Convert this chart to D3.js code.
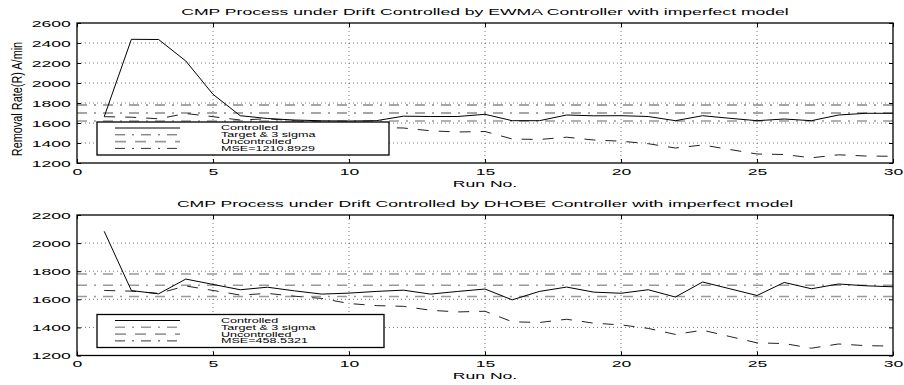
<!DOCTYPE html>
<html>
<head>
<meta charset="utf-8">
<script src="https://cdn.jsdelivr.net/npm/d3@7"></script>
<style>
  body { margin: 0; background: #fff; }
  text { font-family: "Liberation Sans", Arial, Helvetica, sans-serif; fill: #000; }
</style>
</head>
<body>
<svg id="chart" width="904" height="385"></svg>
<script>
// ---- data ----
const runs = [1, 2, 3, 4, 5, 6, 7, 8, 9, 10, 11, 12, 13, 14, 15,
              16, 17, 18, 19, 20, 21, 22, 23, 24, 25, 26, 27, 28, 29, 30];

// drifting process with no control action (same in both panels)
const uncontrolled = [1663, 1658, 1642, 1695, 1663, 1630, 1642, 1622, 1606, 1570,
                      1555, 1550, 1522, 1510, 1515, 1440, 1435, 1458, 1430, 1418,
                      1393, 1350, 1380, 1335, 1290, 1285, 1252, 1282, 1270, 1267];

const ewmaControlled = [1663, 2437, 2435, 2220, 1887, 1673, 1645, 1630, 1622, 1620,
                        1623, 1668, 1665, 1665, 1687, 1623, 1623, 1680, 1672, 1673,
                        1665, 1623, 1673, 1647, 1623, 1640, 1623, 1680, 1697, 1697];

const dhobeControlled = [2084, 1662, 1639, 1744, 1706, 1668, 1686, 1660, 1637, 1644,
                         1656, 1665, 1637, 1656, 1673, 1596, 1656, 1687, 1651, 1643,
                         1668, 1616, 1723, 1675, 1627, 1720, 1675, 1709, 1696, 1689];

// target and 3-sigma limits
const referenceLevels = [1780, 1700, 1620];

const xTicks = [0, 5, 10, 15, 20, 25, 30];
const ewmaYTicks = [1200, 1400, 1600, 1800, 2000, 2200, 2400, 2600];
const dhobeYTicks = [1200, 1400, 1600, 1800, 2000, 2200];

const legendLabels = ["Controlled", "Target & 3 sigma", "Uncontrolled"];
const ewmaMse = "MSE=1210.8929";
const dhobeMse = "MSE=458.5321";

const ewmaTitle = "CMP Process under Drift Controlled by EWMA Controller with imperfect model";
const dhobeTitle = "CMP Process under Drift Controlled by DHOBE Controller with imperfect model";
const xLabel = "Run No.";
const yLabel = "Removal Rate(R) A/min";

// ---- layout / style ----
const SX = 1.85;          // horizontal glyph stretch used by all labels
const FS = 9.5;           // label font size
const DASH_DOT = "10,7,2,7";

const svg = d3.select("#chart");

const panels = [
  {
    title: ewmaTitle, controlled: ewmaControlled, mse: ewmaMse,
    yTicks: ewmaYTicks, top: 23, bottom: 163, showYLabel: true,
    refStyles: [
      { color: "#4d4d4d", width: 1 },
      { color: "#4d4d4d", width: 1 },
      { color: "#999", width: 1.5 }
    ],
    legend: { x: 97, y: 122, w: 292, h: 33 },
    samples: [
      { color: "#000", width: 1, dash: null },
      { color: "#555", width: 1, dash: DASH_DOT },
      { color: "#999", width: 1.6, dash: "11,9" },
      { color: "#333", width: 1, dash: DASH_DOT }
    ]
  },
  {
    title: dhobeTitle, controlled: dhobeControlled, mse: dhobeMse,
    yTicks: dhobeYTicks, top: 215, bottom: 355.5, showYLabel: false,
    refStyles: [
      { color: "#9a9a9a", width: 1.6 },
      { color: "#9a9a9a", width: 1.6 },
      { color: "#9a9a9a", width: 1.6 }
    ],
    legend: { x: 97, y: 314.5, w: 287, h: 33 },
    samples: [
      { color: "#000", width: 1, dash: null },
      { color: "#9a9a9a", width: 1.6, dash: DASH_DOT },
      { color: "#9a9a9a", width: 1.6, dash: "11,9" },
      { color: "#333", width: 1, dash: DASH_DOT }
    ]
  }
];

const left = 77, right = 893;

function stretchedText(g, x, y, str, anchor, size, sx) {
  return g.append("text")
    .attr("transform", `translate(${x},${y}) scale(${sx},1)`)
    .attr("text-anchor", anchor)
    .attr("font-size", size)
    .text(str);
}

panels.forEach(p => {
  const g = svg.append("g");
  const x = d3.scaleLinear().domain([0, 30]).range([left, right]);
  const y = d3.scaleLinear()
    .domain([p.yTicks[0], p.yTicks[p.yTicks.length - 1]])
    .range([p.bottom, p.top]);

  // dotted grid
  const grid = g.append("g").attr("stroke", "#555").attr("stroke-width", 0.8)
    .attr("stroke-dasharray", "1,3");
  grid.selectAll(".gx").data(xTicks.slice(1, -1)).join("line")
    .attr("x1", d => x(d)).attr("x2", d => x(d))
    .attr("y1", p.top).attr("y2", p.bottom);
  grid.selectAll(".gy").data(p.yTicks.slice(1, -1)).join("line")
    .attr("x1", left).attr("x2", right)
    .attr("y1", d => y(d)).attr("y2", d => y(d));

  // target and limit lines
  g.selectAll(".ref").data(referenceLevels).join("line")
    .attr("x1", left).attr("x2", right)
    .attr("y1", d => y(d)).attr("y2", d => y(d))
    .attr("stroke", (d, i) => p.refStyles[i].color)
    .attr("stroke-width", (d, i) => p.refStyles[i].width)
    .attr("stroke-dasharray", DASH_DOT);

  const line = d3.line().x((d, i) => x(runs[i])).y(d => y(d));

  g.append("path").datum(uncontrolled)
    .attr("d", line).attr("fill", "none")
    .attr("stroke", "#222").attr("stroke-width", 1)
    .attr("stroke-dasharray", "11,10");

  g.append("path").datum(p.controlled)
    .attr("d", line).attr("fill", "none")
    .attr("stroke", "#000").attr("stroke-width", 1);

  // axes with inward ticks on all four sides
  const yAxis = g.append("g").attr("transform", `translate(${left},0)`)
    .call(d3.axisLeft(y).tickValues(p.yTicks).tickSize(-4).tickSizeOuter(0)
      .tickPadding(3.4).tickFormat(d3.format("d")));
  const xAxis = g.append("g").attr("transform", `translate(0,${p.bottom})`)
    .call(d3.axisBottom(x).tickValues(xTicks).tickSize(-4).tickSizeOuter(0)
      .tickPadding(5.2).tickFormat(d3.format("d")));
  g.append("g").attr("transform", `translate(${right},0)`)
    .call(d3.axisRight(y).tickValues(p.yTicks).tickSize(-4).tickSizeOuter(0).tickFormat(""));
  g.append("g").attr("transform", `translate(0,${p.top})`)
    .call(d3.axisTop(x).tickValues(xTicks).tickSize(-4).tickSizeOuter(0).tickFormat(""));

  g.selectAll(".domain").remove();
  g.selectAll(".tick line").attr("stroke", "#000").attr("stroke-width", 1);
  [yAxis, xAxis].forEach(a => a.selectAll("text")
    .attr("font-size", FS)
    .attr("font-family", '"Liberation Sans", Arial, sans-serif')
    .attr("fill", "#000")
    .attr("transform", `scale(${SX},1)`));

  // plot box
  g.append("rect").attr("x", left).attr("y", p.top)
    .attr("width", right - left).attr("height", p.bottom - p.top)
    .attr("fill", "none").attr("stroke", "#000").attr("stroke-width", 1.3);

  // title and axis labels
  stretchedText(g, (left + right) / 2, p.top - 8, p.title, "middle", FS, SX);
  stretchedText(g, (left + right) / 2, p.bottom + 23.5, xLabel, "middle", FS, SX);
  if (p.showYLabel) {
    g.append("text")
      .attr("transform", `translate(22,${(p.top + p.bottom) / 2 + 6}) scale(1.3,1) rotate(-90)`)
      .attr("text-anchor", "middle")
      .attr("font-size", 10.9)
      .text(yLabel);
  }

  // legend
  const L = p.legend;
  const lg = g.append("g");
  lg.append("rect").attr("x", L.x).attr("y", L.y).attr("width", L.w).attr("height", L.h)
    .attr("fill", "#fff").attr("stroke", "#000").attr("stroke-width", 1.3);
  const labels = legendLabels.concat([p.mse]);
  labels.forEach((lab, i) => {
    const ry = L.y + 6 + i * 6.8;
    const s = p.samples[i];
    lg.append("line").attr("x1", L.x + 18).attr("x2", L.x + 83)
      .attr("y1", ry).attr("y2", ry)
      .attr("stroke", s.color).attr("stroke-width", s.width)
      .attr("stroke-dasharray", s.dash);
    stretchedText(lg, L.x + 124, ry + 2.4, lab, "start", 6.8, SX);
  });
});
</script>
</body>
</html>
